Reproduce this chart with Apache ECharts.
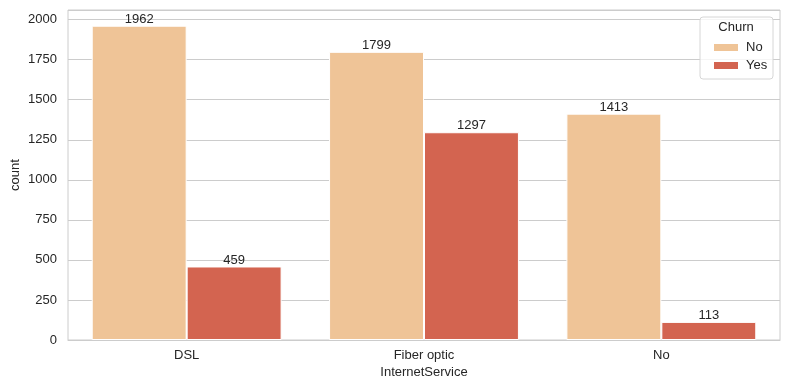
<!DOCTYPE html>
<html>
<head>
<meta charset="utf-8">
<script src="https://cdn.jsdelivr.net/npm/echarts@6/dist/echarts.min.js"></script>
<style>html,body{margin:0;padding:0;background:#fff;}#c{width:790px;height:390px;}</style>
</head>
<body>
<div id="c"></div>
<script>
const categories = ['DSL', 'Fiber optic', 'No'];
const churnNo = [1962, 1799, 1413];
const churnYes = [459, 1297, 113];
const yTicks = [0, 250, 500, 750, 1000, 1250, 1500, 1750, 2000];

const FONT = 'Liberation Sans, Arial, sans-serif';
const TXT = '#262626';
const chart = echarts.init(document.getElementById('c'), null, {renderer: 'canvas'});
const barLabel = {show: true, position: 'top', distance: 0, color: TXT, fontFamily: FONT, fontSize: 13};
chart.setOption({
  animation: false,
  grid: {left: 68, right: 10, top: 10, bottom: 50, outerBoundsMode: 'none', containLabel: false,
         show: true, borderColor: '#cccccc', borderWidth: 1, backgroundColor: 'transparent'},
  xAxis: {
    type: 'category', data: categories,
    name: 'InternetService', nameLocation: 'middle', nameGap: 26, nameMoveOverlap: false,
    nameTextStyle: {color: TXT, fontFamily: FONT, fontSize: 13},
    axisLine: {show: true, lineStyle: {color: '#cccccc'}},
    axisTick: {show: false},
    axisLabel: {color: TXT, fontFamily: FONT, fontSize: 13, margin: 9},
    splitLine: {show: false}
  },
  yAxis: {
    type: 'value', min: 0, max: 2060.1, interval: 250,
    name: 'count', nameLocation: 'middle', nameGap: 46, nameMoveOverlap: false,
    nameTextStyle: {color: TXT, fontFamily: FONT, fontSize: 13},
    axisLine: {show: false}, axisTick: {show: false},
    axisLabel: {color: TXT, fontFamily: FONT, fontSize: 13, margin: 11,
      formatter: v => yTicks.includes(v) ? String(v) : ''},
    splitLine: {show: true, lineStyle: {color: '#cccccc', width: 1}}
  },
  legend: {
    orient: 'vertical', left: 707, top: 36, itemWidth: 26, itemHeight: 9, itemGap: 5,
    icon: 'rect', z: 20,
    textStyle: {color: TXT, fontFamily: FONT, fontSize: 13, lineHeight: 13, padding: [0, 0, 0, 2]},
    data: ['No', 'Yes']
  },
  graphic: [
    {type: 'rect', x: 700, y: 17, z: 1, shape: {x: 0, y: 0, width: 73, height: 62, r: 3},
     style: {fill: 'rgba(255,255,255,0.8)', stroke: '#d6d6d6', lineWidth: 1}},
    {type: 'text', x: 736, y: 27, z: 2, style: {text: 'Churn', align: 'center', verticalAlign: 'middle', fill: TXT, font: '13px ' + FONT}}
  ],
  series: [
    {name: 'No', type: 'bar', data: churnNo, barGap: '0%', barCategoryGap: '20%',
     itemStyle: {color: '#EFC497', borderColor: '#ffffff', borderWidth: 1}, label: barLabel},
    {name: 'Yes', type: 'bar', data: churnYes,
     itemStyle: {color: '#D36450', borderColor: '#ffffff', borderWidth: 1}, label: barLabel}
  ]
});
</script>
</body>
</html>
